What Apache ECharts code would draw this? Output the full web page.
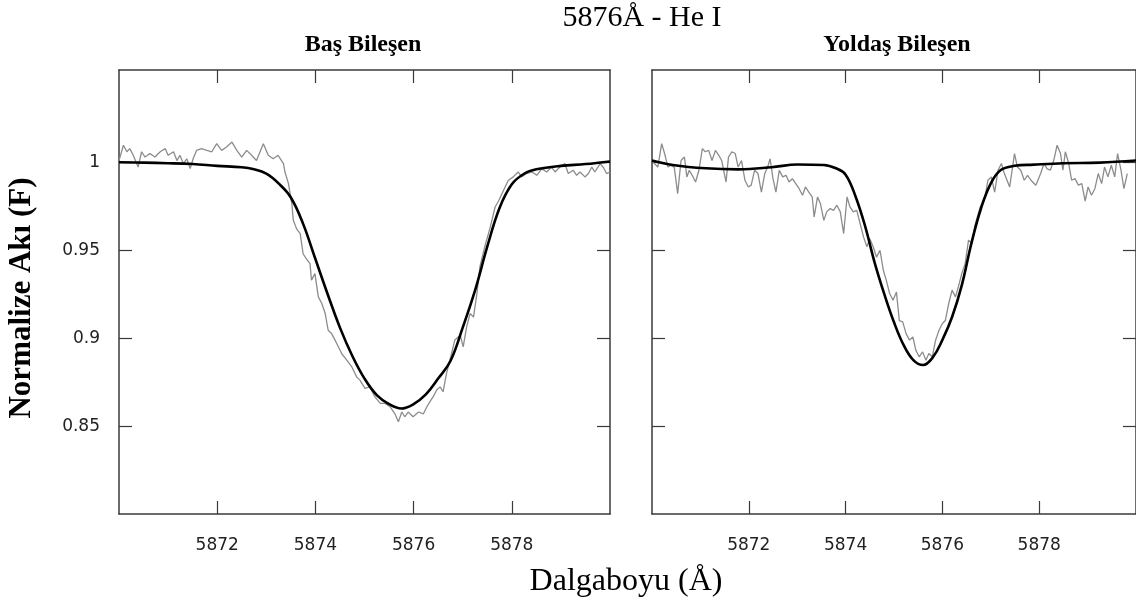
<!DOCTYPE html>
<html>
<head>
<meta charset="utf-8">
<script src="https://cdn.jsdelivr.net/npm/echarts@6.0.0/dist/echarts.min.js"></script>
<style>
  html, body { margin:0; padding:0; background:#fff }
  #c { width:1136px; height:603px }
</style>
</head>
<body>
<div id="c"></div>
<script>
// He I 5876 — baş ve yoldaş bileşen profilleri (gözlem = gri, model = siyah)

const xTicks = [5872, 5874, 5876, 5878]
const yTicks = [0.85, 0.9, 0.95, 1]

// Baş bileşen: gözlenen
const obsWaveA = [5870.00,5870.09,5870.16,5870.22,5870.29,5870.39,5870.46,5870.53,5870.63,5870.73,5870.84,5870.94,5871.00,5871.11,5871.18,5871.24,5871.31,5871.38,5871.45,5871.51,5871.58,5871.68,5871.79,5871.89,5871.99,5872.09,5872.19,5872.30,5872.40,5872.50,5872.60,5872.70,5872.80,5872.94,5873.04,5873.14,5873.24,5873.35,5873.38,5873.45,5873.52,5873.55,5873.62,5873.69,5873.75,5873.82,5873.89,5873.92,5873.99,5874.06,5874.13,5874.20,5874.26,5874.33,5874.40,5874.47,5874.54,5874.64,5874.74,5874.84,5874.91,5875.01,5875.11,5875.21,5875.32,5875.42,5875.52,5875.62,5875.69,5875.76,5875.82,5875.89,5875.99,5876.10,5876.20,5876.27,5876.33,5876.40,5876.47,5876.54,5876.60,5876.67,5876.74,5876.84,5876.95,5877.01,5877.08,5877.15,5877.22,5877.29,5877.35,5877.45,5877.56,5877.66,5877.73,5877.83,5877.93,5878.03,5878.13,5878.20,5878.30,5878.41,5878.51,5878.61,5878.71,5878.81,5878.88,5878.98,5879.08,5879.15,5879.25,5879.32,5879.39,5879.49,5879.56,5879.63,5879.69,5879.80,5879.86,5879.93,5880.00]
const obsFluxA = [1.001,1.0097,1.006,1.0078,1.004,0.9973,1.006,1.003,1.005,1.003,1.006,1.0078,1.004,1.006,1.001,1.004,0.9993,1.002,0.9964,1.002,1.0068,1.0078,1.0068,1.006,1.0106,1.0068,1.0087,1.0115,1.0068,1.003,1.0068,1.004,1.001,1.0106,1.004,1.002,1.004,0.9993,0.9945,0.988,0.9765,0.967,0.962,0.9595,0.948,0.945,0.9424,0.933,0.9367,0.9235,0.9197,0.914,0.9045,0.9026,0.8989,0.895,0.891,0.8875,0.8837,0.878,0.876,0.8714,0.8723,0.8667,0.8629,0.8629,0.861,0.857,0.8525,0.858,0.8553,0.858,0.8553,0.858,0.857,0.861,0.8638,0.8667,0.8705,0.8723,0.8695,0.880,0.8875,0.899,0.9017,0.895,0.9064,0.914,0.912,0.9254,0.9405,0.952,0.963,0.9746,0.978,0.984,0.9898,0.9917,0.9945,0.9917,0.9936,0.9945,0.9926,0.9964,0.9945,0.9973,0.9945,0.9973,0.9993,0.9936,0.9955,0.9926,0.9945,0.9917,0.9936,0.9973,0.9945,0.9993,0.9973,0.9936,0.9945]

// Baş bileşen: model
const modelWaveA = [5870,5870.5,5871,5871.5,5872,5872.5,5872.75,5873,5873.25,5873.5,5873.75,5874,5874.25,5874.5,5874.75,5875,5875.25,5875.5,5875.75,5876,5876.25,5876.5,5876.75,5877,5877.25,5877.5,5877.75,5878,5878.25,5878.5,5879,5879.5,5880]
const modelFluxA = [1.000,0.9998,0.9995,0.999,0.998,0.9972,0.996,0.9935,0.988,0.980,0.965,0.945,0.925,0.906,0.890,0.877,0.8676,0.8625,0.860,0.8625,0.868,0.877,0.887,0.906,0.927,0.952,0.974,0.9875,0.9935,0.996,0.998,0.999,1.0005]

// Yoldaş bileşen: gözlenen
const obsWaveB = [5870.00,5870.05,5870.12,5870.20,5870.26,5870.33,5870.39,5870.46,5870.53,5870.60,5870.67,5870.72,5870.77,5870.83,5870.90,5870.97,5871.04,5871.10,5871.17,5871.24,5871.31,5871.38,5871.44,5871.53,5871.58,5871.65,5871.72,5871.78,5871.85,5871.92,5871.99,5872.05,5872.12,5872.19,5872.26,5872.33,5872.39,5872.44,5872.50,5872.56,5872.63,5872.70,5872.77,5872.83,5872.90,5872.97,5873.04,5873.11,5873.17,5873.24,5873.31,5873.35,5873.42,5873.48,5873.55,5873.61,5873.68,5873.75,5873.82,5873.89,5873.96,5874.03,5874.09,5874.16,5874.23,5874.30,5874.37,5874.44,5874.50,5874.57,5874.64,5874.71,5874.78,5874.84,5874.91,5874.98,5875.05,5875.11,5875.18,5875.25,5875.32,5875.39,5875.45,5875.52,5875.59,5875.66,5875.72,5875.79,5875.86,5875.93,5876.00,5876.06,5876.13,5876.20,5876.27,5876.33,5876.40,5876.47,5876.54,5876.61,5876.67,5876.78,5876.88,5876.94,5877.01,5877.08,5877.15,5877.22,5877.28,5877.39,5877.49,5877.55,5877.62,5877.69,5877.76,5877.83,5877.93,5878.03,5878.10,5878.16,5878.23,5878.30,5878.37,5878.44,5878.49,5878.54,5878.61,5878.67,5878.74,5878.81,5878.88,5878.95,5879.01,5879.08,5879.15,5879.22,5879.29,5879.35,5879.42,5879.49,5879.56,5879.62,5879.69,5879.75,5879.82]
const obsFluxB = [1.001,0.9993,0.9973,1.0106,1.005,0.9973,0.9983,0.9973,0.9822,1.001,1.003,0.9917,0.9955,0.9926,0.9888,0.9955,1.0078,1.006,1.0068,1.001,1.0068,1.004,1.001,0.9888,1.003,1.006,1.005,0.9973,1.001,0.9898,0.986,0.987,0.9955,0.9936,0.9831,0.9936,0.9973,1.002,0.9907,0.9831,0.9955,0.9917,0.9926,0.9888,0.9907,0.9879,0.985,0.9813,0.986,0.9831,0.9803,0.969,0.9803,0.9765,0.967,0.9718,0.9737,0.9727,0.9756,0.9718,0.9595,0.9803,0.9746,0.9718,0.9727,0.9652,0.9576,0.952,0.9566,0.952,0.946,0.95,0.9386,0.933,0.9254,0.9216,0.9263,0.910,0.9093,0.9026,0.8989,0.9007,0.8932,0.8894,0.8922,0.8875,0.8913,0.8894,0.8989,0.9045,0.9083,0.910,0.9197,0.9273,0.9235,0.9292,0.9367,0.9424,0.9557,0.9538,0.964,0.9746,0.9803,0.9898,0.9917,0.9831,0.9955,0.9993,0.9936,0.986,1.005,0.9973,0.9955,0.9898,0.9926,0.9898,0.987,0.9936,0.9993,0.9964,0.9955,1.001,1.0097,1.005,0.9955,1.006,0.9993,0.9898,0.9907,0.987,0.9879,0.978,0.986,0.9813,0.985,0.9936,0.9879,0.9973,0.9917,0.9983,0.9917,1.005,0.9955,0.985,0.9936]

// Yoldaş bileşen: model
const modelWaveB = [5870,5870.43,5871.11,5871.79,5872.47,5873.01,5873.55,5873.8,5874.0,5874.2,5874.4,5874.6,5874.8,5875.0,5875.2,5875.4,5875.6,5875.8,5876.0,5876.2,5876.4,5876.6,5876.8,5877.0,5877.2,5877.49,5877.89,5878.5,5879.25,5880]
const modelFluxB = [1.001,0.9985,0.9966,0.996,0.9972,0.9988,0.9985,0.9966,0.993,0.981,0.964,0.943,0.925,0.909,0.896,0.8875,0.8847,0.889,0.899,0.912,0.930,0.954,0.974,0.988,0.9955,0.998,0.9987,0.9995,0.9998,1.001]

const AX = '#3a3a3a'
const zip = (xs, ys) => xs.map((x, i) => [x, ys[i]])

function xAx(grid, pos, labels){
  return { type:'value', gridIndex:grid, position:pos, min:5870, max:5880,
    axisLine:{ show:true, onZero:false, lineStyle:{ color:AX, width:1.5 } },
    axisTick:{ show:true, inside:true, length:13, customValues:xTicks, lineStyle:{ color:AX, width:1.2 } },
    axisLabel:{ show:labels, customValues:xTicks, margin:23, color:'#222', fontFamily:'DejaVu Sans', fontSize:17,
      formatter: v => String(v) },
    splitLine:{ show:false } }
}
function yAx(grid, pos, labels){
  return { type:'value', gridIndex:grid, position:pos, min:0.8, max:1.0525,
    axisLine:{ show:true, onZero:false, lineStyle:{ color:AX, width:1.5 } },
    axisTick:{ show:true, inside:true, length:13, customValues:yTicks, lineStyle:{ color:AX, width:1.2 } },
    axisLabel:{ show:labels, customValues:yTicks, margin:19, color:'#222', fontFamily:'DejaVu Sans', fontSize:17,
      formatter: v => String(v) },
    splitLine:{ show:false } }
}
function obs(i, xs, ys){
  return { type:'line', xAxisIndex:i*2, yAxisIndex:i*2, data:zip(xs, ys), showSymbol:false, silent:true,
    lineStyle:{ color:'#8c8c8c', width:1.3 }, z:2 }
}
function model(i, xs, ys){
  return { type:'line', xAxisIndex:i*2, yAxisIndex:i*2, data:zip(xs, ys), smooth:0.4, showSymbol:false, silent:true,
    lineStyle:{ color:'#000', width:2.6 }, z:3 }
}
function txt(x, y, s, size, weight, rot){
  return { type:'text', x, y, rotation:rot||0, silent:true,
    style:{ text:s, fill:'#000', fontFamily:'Liberation Serif', fontSize:size, fontWeight:weight||'normal',
      align:'center', verticalAlign:'middle' } }
}

const chart = echarts.init(document.getElementById('c'))
chart.setOption({
  animation:false,
  backgroundColor:'#fff',
  grid:[
    { left:119, top:70, width:491, height:444 },
    { left:652, top:70, width:491, height:444 }
  ],
  xAxis:[ xAx(0,'bottom',true), xAx(0,'top',false), xAx(1,'bottom',true), xAx(1,'top',false) ],
  yAxis:[ yAx(0,'left',true), yAx(0,'right',false), yAx(1,'left',false), yAx(1,'right',false) ],
  series:[
    obs(0, obsWaveA, obsFluxA), model(0, modelWaveA, modelFluxA),
    obs(1, obsWaveB, obsFluxB), model(1, modelWaveB, modelFluxB)
  ],
  graphic:[
    txt(642, 18, '5876Å - He I', 30),
    txt(363, 45, 'Baş Bileşen', 24, 'bold'),
    txt(897, 45, 'Yoldaş Bileşen', 24, 'bold'),
    txt(626, 582, 'Dalgaboyu (Å)', 32),
    txt(22, 298, 'Normalize Akı (F)', 31, 'bold', Math.PI/2)
  ]
})
</script>
</body>
</html>
